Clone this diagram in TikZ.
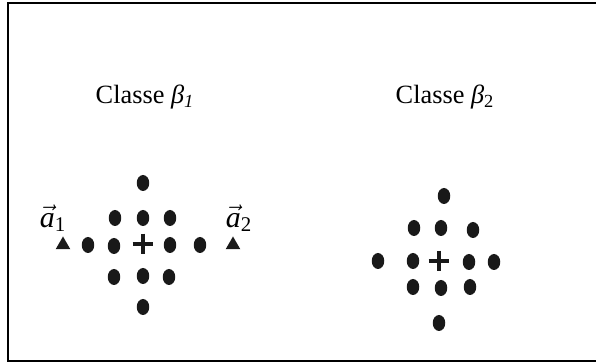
\documentclass[tikz,border=0pt]{standalone}
\usepackage{fontspec}
\setmainfont{Liberation Serif}
\usepackage{tikz}
\usetikzlibrary{shapes.geometric,positioning}

\tikzset{
  point/.style={ellipse, fill=black!90, inner sep=0pt, minimum width=0.25cm, minimum height=0.32cm},
  proto/.style={regular polygon, regular polygon sides=3, fill=black!90, inner sep=0pt, minimum size=0.34cm},
  centre/.style={inner sep=0pt, minimum size=0.4cm},
  plusline/.style={line width=0.07cm, black!90},
  label/.style={font=\fontsize{15}{18}\selectfont, inner sep=0pt}
}

\begin{document}
\begin{tikzpicture}[x=0.02cm, y=-0.02cm]
  \useasboundingbox (0,0) rectangle (596,364);
  \draw[line width=1.6] (8,3) rectangle (602,361);

  % class titles
  \node[label] (titleA) at (145,97) {Classe \textit{β}\textsubscript{\textit{1}}};
  \node[label] (titleB) at (445,97) {Classe \textit{β}\textsubscript{2}};

  % first class
  \foreach \px/\py [count=\i] in {143/183, 115/218, 143/218, 170/218,
      88/245, 114/246, 170/245, 200/245,
      114/277, 143/276, 169/277, 143/307}
    \node[point] (A\i) at (\px,\py) {};
  \node[centre] (cA) at (143,244) {};
  \draw[plusline] (cA.west) -- (cA.east) (cA.north) -- (cA.south);

  % prototypes
  \node[proto] (t1) at (63,245) {};
  \node[proto] (t2) at (233,245) {};
  \node[label, font=\fontsize{17}{18}\selectfont] (a1) at (53,218) {\ensuremath{\vec{\textit{a}}}\textsubscript{1}};
  \node[label, font=\fontsize{17}{18}\selectfont] (a2) at (239,218) {\ensuremath{\vec{\textit{a}}}\textsubscript{2}};

  % second class
  \foreach \px/\py [count=\i] in {444/196, 414/228, 441/228, 473/230,
      378/261, 413/261, 469/262, 494/262,
      413/287, 441/288, 470/287, 439/323}
    \node[point] (B\i) at (\px,\py) {};
  \node[centre] (cB) at (439,261) {};
  \draw[plusline] (cB.west) -- (cB.east) (cB.north) -- (cB.south);
\end{tikzpicture}
\end{document}
